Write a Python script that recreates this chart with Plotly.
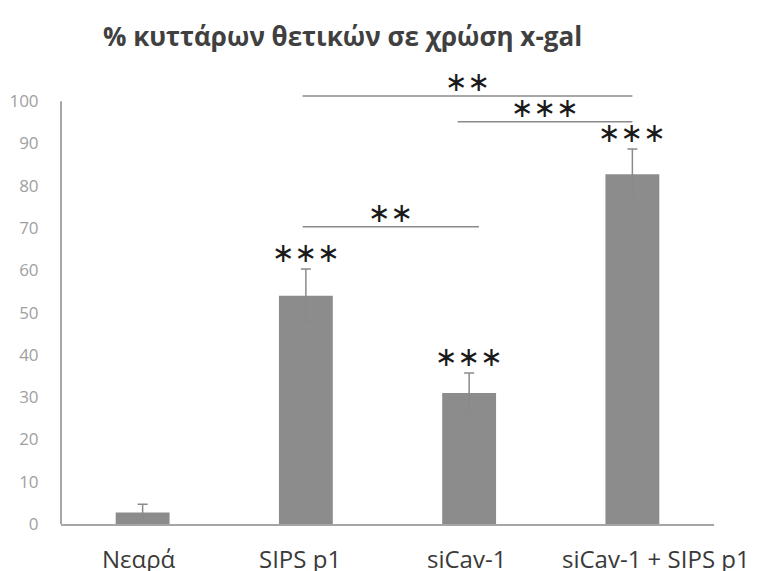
import plotly.graph_objects as go

categories = ["Νεαρά", "SIPS p1", "siCav-1", "siCav-1 + SIPS p1"]
values = [2.7, 54, 31, 82.7]
errors = [2.0, 6.3, 4.7, 6.0]
bar_stars = ["", "∗∗∗", "∗∗∗", "∗∗∗"]
# significance brackets: (from group, to group, height, label)
brackets = [(1, 3, 101.2, "∗∗"), (2, 3, 95.1, "∗∗∗"), (1, 2, 70.3, "∗∗")]
yticks = list(range(0, 101, 10))

xs = list(range(len(categories)))

fig = go.Figure()
fig.add_trace(go.Bar(
    x=xs, y=values,
    marker=dict(color="#8c8c8c", line=dict(width=0)),
    error_y=dict(type="data", array=errors, visible=True, color="#8a8a8a", thickness=1.5, width=5),
    width=0.33,
))

shapes = []
# y axis line 0..100
shapes.append(dict(type="line", xref="paper", yref="y", x0=0, x1=0, y0=0, y1=100,
                   line=dict(color="#a6a6a6", width=2)))
annotations = []
star_font = dict(family="DejaVu Sans", size=27, color="#1a1a1a")
for i, s in enumerate(bar_stars):
    if s:
        annotations.append(dict(x=xs[i], y=values[i] + errors[i], xref="x", yref="y",
                                text=s, showarrow=False, yanchor="bottom", yshift=-1,
                                font=star_font))
for a, b, h, lab in brackets:
    x0 = a - 0.02 if a == 1 else a - 0.07
    x1 = b + 0.06 if b == 2 else b
    shapes.append(dict(type="line", xref="x", yref="y", x0=x0, x1=x1, y0=h, y1=h,
                       line=dict(color="#8a8a8a", width=1.5)))
    annotations.append(dict(x=(x0 + x1) / 2, y=h, xref="x", yref="y", text=lab,
                            showarrow=False, yanchor="bottom", yshift=-3, font=star_font))

# category labels (last one overflows to the right as in the reference)
label_shift = [-4, -6, -3, 24]
for i, c in enumerate(categories):
    annotations.append(dict(x=xs[i], y=0, xref="x", yref="paper", text=c, showarrow=False,
                            xanchor="center", yanchor="middle", yshift=-34, xshift=label_shift[i],
                            font=dict(family="Open Sans", size=24, color="#3a3a3a")))

annotations.append(dict(x=(342 - 61) / 653, y=(524 - 36) / 444, xref="paper", yref="paper",
                        text="<b>% κυττάρων θετικών σε χρώση x-gal</b>", showarrow=False,
                        xanchor="center", yanchor="middle",
                        font=dict(family="Open Sans", size=26, color="#404040")))

fig.update_layout(
    width=760, height=571,
    margin=dict(l=53, r=54, t=72, b=55),
    plot_bgcolor="white", paper_bgcolor="white",
    showlegend=False,
    shapes=shapes,
    annotations=annotations,
    xaxis=dict(range=[-0.5, 3.5], tickvals=xs, ticktext=[""] * len(xs), showline=True,
               linecolor="#a6a6a6", linewidth=2, showgrid=False, zeroline=False,
               ticks="", automargin=False),
    yaxis=dict(range=[0, 105], tickvals=yticks, showline=False, showgrid=False, zeroline=False,
               ticks="outside", ticklen=0, ticklabelstandoff=18, automargin=False,
               tickfont=dict(family="Open Sans", size=17, color="#a0a0a0")),
)
fig.write_html("out.html")
